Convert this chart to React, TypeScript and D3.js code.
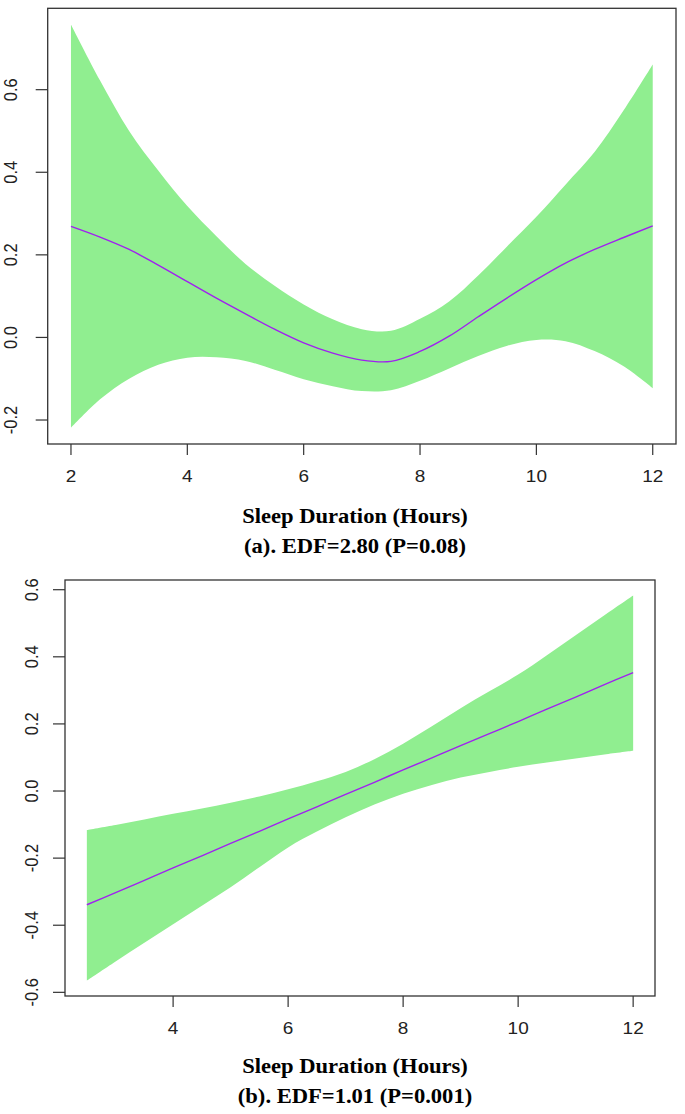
import React from 'react';
import * as d3 from 'd3';

// panel (a)
const sleepA = [2, 2.5, 3, 3.5, 4, 4.5, 5, 5.5, 6, 6.5, 7, 7.5, 8, 8.5, 9, 9.5, 10, 10.5, 11, 11.5, 12];
const fitA = [0.269, 0.243, 0.213, 0.175, 0.135, 0.095, 0.057, 0.02, -0.013, -0.038, -0.055, -0.058, -0.034, 0.003, 0.05, 0.096, 0.14, 0.18, 0.213, 0.242, 0.27];
const upperA = [0.758, 0.622, 0.5, 0.404, 0.318, 0.245, 0.178, 0.125, 0.08, 0.044, 0.02, 0.016, 0.045, 0.087, 0.15, 0.221, 0.292, 0.37, 0.449, 0.55, 0.661];
const lowerA = [-0.219, -0.15, -0.1, -0.066, -0.049, -0.048, -0.057, -0.078, -0.101, -0.118, -0.13, -0.128, -0.105, -0.075, -0.045, -0.02, -0.006, -0.009, -0.033, -0.07, -0.123];
const xTicksA = [2, 4, 6, 8, 10, 12];
const yTicksA = [-0.2, 0, 0.2, 0.4, 0.6];

// panel (b)
const sleepB = [2.5, 3, 3.5, 4, 4.5, 5, 5.5, 6, 6.5, 7, 7.5, 8, 8.5, 9, 9.5, 10, 10.5, 11, 11.5, 12];
const fitB = [-0.339, -0.303, -0.266, -0.229, -0.193, -0.156, -0.12, -0.083, -0.047, -0.01, 0.026, 0.063, 0.099, 0.135, 0.171, 0.207, 0.244, 0.28, 0.317, 0.353];
const upperB = [-0.116, -0.101, -0.085, -0.068, -0.052, -0.035, -0.016, 0.005, 0.029, 0.057, 0.095, 0.141, 0.193, 0.247, 0.297, 0.347, 0.405, 0.464, 0.524, 0.583];
const lowerB = [-0.565, -0.508, -0.452, -0.397, -0.342, -0.287, -0.227, -0.168, -0.121, -0.078, -0.04, -0.008, 0.018, 0.04, 0.057, 0.072, 0.085, 0.097, 0.109, 0.12];
const xTicksB = [4, 6, 8, 10, 12];
const yTicksB = [-0.6, -0.4, -0.2, 0, 0.2, 0.4, 0.6];

const xTitle = 'Sleep Duration (Hours)';
const captionA = '(a). EDF=2.80 (P=0.08)';
const captionB = '(b). EDF=1.01 (P=0.001)';

// R style axis range: data extent plus 4% each side
function padded(vals) {
  const [lo, hi] = d3.extent(vals);
  const p = (hi - lo) * 0.04;
  return [lo - p, hi + p];
}

function Panel({ xs, fit, upper, lower, xTicks, yTicks, box, yLabelX, caption, titleY }) {
  const x = d3.scaleLinear().domain(padded(xs)).range([box.left, box.right]);
  const y = d3.scaleLinear().domain(padded(lower.concat(upper))).range([box.bottom, box.top]);
  const rows = xs.map((v, i) => ({ x: v, fit: fit[i], up: upper[i], lo: lower[i] }));

  const band = d3
    .area()
    .x(d => x(d.x))
    .y0(d => y(d.lo))
    .y1(d => y(d.up))
    .curve(d3.curveCatmullRom.alpha(0.5));
  const line = d3
    .line()
    .x(d => x(d.x))
    .y(d => y(d.fit))
    .curve(d3.curveCatmullRom.alpha(0.5));

  const tickFont = { fontFamily: '"Liberation Sans", Arial, sans-serif', fontSize: 16.5, fill: '#222' };
  const titleFont = { fontFamily: '"Liberation Serif", "Times New Roman", serif', fontSize: 21.5, fontWeight: 'bold', fill: '#000' };

  return (
    <g>
      <path d={band(rows)} fill="#90EE90" />
      <path d={line(rows)} fill="none" stroke="#A020F0" strokeWidth={1.4} />
      <rect
        x={box.left}
        y={box.top}
        width={box.right - box.left}
        height={box.bottom - box.top}
        fill="none"
        stroke="#333"
        strokeWidth={1.3}
      />
      {yTicks.map(t => (
        <g key={'y' + t}>
          <line x1={box.left - 12} x2={box.left} y1={y(t)} y2={y(t)} stroke="#333" strokeWidth={1.2} />
          <text
            transform={`translate(${yLabelX}, ${y(t)}) scale(1.12, 1) rotate(-90)`}
            textAnchor="middle"
            style={tickFont}
          >
            {t.toFixed(1)}
          </text>
        </g>
      ))}
      {xTicks.map(t => (
        <g key={'x' + t}>
          <line x1={x(t)} x2={x(t)} y1={box.bottom} y2={box.bottom + 11} stroke="#333" strokeWidth={1.2} />
          <text
            transform={`translate(${x(t)}, ${box.bottom + 38}) scale(1.15, 1)`}
            textAnchor="middle"
            style={tickFont}
          >
            {t}
          </text>
        </g>
      ))}
      <text transform={`translate(355, ${titleY}) scale(1.05, 1)`} textAnchor="middle" style={titleFont}>
        {xTitle}
      </text>
      <text transform={`translate(355, ${titleY + 30}) scale(1.05, 1)`} textAnchor="middle" style={titleFont}>
        {caption}
      </text>
    </g>
  );
}

export default function App() {
  return (
    <svg
      width={685}
      height={1114}
      style={{ position: 'absolute', left: 0, top: 0, background: '#fff' }}
    >
      <Panel
        xs={sleepA}
        fit={fitA}
        upper={upperA}
        lower={lowerA}
        xTicks={xTicksA}
        yTicks={yTicksA}
        box={{ left: 47.7, right: 676, top: 8.3, bottom: 444 }}
        yLabelX={17}
        caption={captionA}
        titleY={523}
      />
      <Panel
        xs={sleepB}
        fit={fitB}
        upper={upperB}
        lower={lowerB}
        xTicks={xTicksB}
        yTicks={yTicksB}
        box={{ left: 65, right: 655, top: 580, bottom: 996 }}
        yLabelX={38}
        caption={captionB}
        titleY={1073}
      />
    </svg>
  );
}
